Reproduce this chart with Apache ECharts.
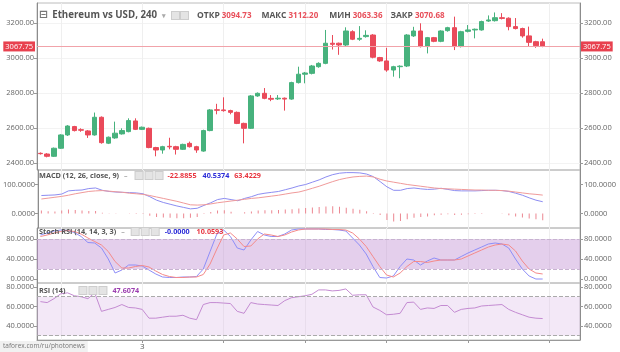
<!DOCTYPE html>
<html>
<head>
<meta charset="utf-8">
<script src="https://cdn.jsdelivr.net/npm/echarts@6/dist/echarts.min.js"></script>
<style>
  html, body { margin: 0; padding: 0; background: #fff; }
  #chart { width: 620px; height: 352px; }
</style>
</head>
<body>
<div id="chart"></div>
<script>
// ETH/USD 4h candles: [open, close, low, high]
const candles = [
  [2457, 2455, 2450, 2462], [2453, 2440, 2434, 2458], [2440, 2486, 2436, 2490], [2486, 2562, 2482, 2566],
  [2562, 2613, 2556, 2618], [2610, 2587, 2582, 2614], [2592, 2589, 2580, 2600], [2585, 2562, 2545, 2590],
  [2562, 2663, 2558, 2690], [2663, 2518, 2512, 2668], [2515, 2549, 2510, 2553], [2545, 2572, 2540, 2638],
  [2568, 2587, 2564, 2600], [2581, 2644, 2577, 2657], [2642, 2594, 2590, 2657], [2594, 2606, 2590, 2610],
  [2600, 2490, 2486, 2604], [2490, 2476, 2440, 2494], [2476, 2495, 2455, 2500], [2497, 2494, 2480, 2546],
  [2495, 2480, 2450, 2500], [2480, 2508, 2476, 2512], [2514, 2495, 2490, 2524], [2495, 2476, 2460, 2500],
  [2470, 2587, 2466, 2592], [2587, 2705, 2583, 2710], [2706, 2703, 2680, 2740], [2705, 2701, 2695, 2777],
  [2701, 2691, 2680, 2706], [2691, 2628, 2624, 2696], [2628, 2600, 2514, 2632], [2600, 2785, 2596, 2790],
  [2785, 2800, 2780, 2805], [2800, 2771, 2766, 2830], [2771, 2766, 2755, 2790], [2768, 2772, 2762, 2790],
  [2772, 2767, 2701, 2776], [2767, 2861, 2763, 2866], [2861, 2909, 2856, 2952], [2909, 2916, 2857, 2922],
  [2914, 2956, 2908, 2962], [2952, 2971, 2946, 2977], [2971, 3086, 2966, 3162], [3086, 3080, 3050, 3133],
  [3086, 3076, 3020, 3090], [3076, 3156, 3070, 3177], [3152, 3109, 3104, 3160], [3109, 3114, 3100, 3184],
  [3124, 3131, 3118, 3160], [3133, 3006, 3000, 3138], [3004, 2985, 2980, 3008], [2985, 2933, 2923, 3060],
  [2933, 2952, 2895, 2957], [2952, 2955, 2886, 2960], [2956, 3133, 2950, 3138], [3128, 3156, 3122, 3180],
  [3156, 3067, 3062, 3200], [3067, 3118, 3028, 3122], [3118, 3097, 3092, 3122], [3097, 3156, 3092, 3160],
  [3158, 3175, 3152, 3180], [3175, 3067, 3047, 3238], [3067, 3152, 3062, 3157], [3154, 3162, 3148, 3190],
  [3162, 3166, 3114, 3170], [3162, 3210, 3158, 3215], [3213, 3219, 3208, 3245], [3215, 3232, 3210, 3262],
  [3232, 3228, 3222, 3258], [3229, 3181, 3160, 3234], [3181, 3170, 3165, 3230], [3170, 3128, 3118, 3175],
  [3128, 3091, 3070, 3181], [3095, 3072, 3060, 3100], [3094.73, 3070.68, 3063.36, 3112.20]
];

const macdLine = [62, 63, 64, 67, 78, 80, 81, 86, 88, 80,
  76, 74, 73, 72, 71, 68, 58, 46, 38, 32,
  26, 21, 16, 18, 28, 37, 48, 52, 48, 44,
  52, 58, 66, 70, 73, 76, 82, 88, 95, 100,
  108, 116, 126, 134, 139, 141, 141, 140, 136, 127,
  110, 92, 80, 80, 86, 88, 85, 83, 84, 87,
  83, 79, 78, 78, 78, 79, 80, 80, 79, 76,
  70, 63, 54, 46, 40.5374];
const signalLine = [50, 53, 56, 59, 63, 68, 72, 76, 78, 79,
  77, 75, 73, 70, 68, 66, 62, 57, 52, 47,
  42, 36, 30, 29, 30, 33, 37, 40, 43, 46,
  49, 52, 54, 57, 60, 63, 67, 71, 74, 80,
  87, 94, 102, 110, 117, 122, 126, 128, 129, 126,
  118, 112, 108, 104, 100, 97, 94, 91, 88, 86,
  85, 84, 83, 82, 81, 81, 80, 80, 79, 77,
  74, 71, 68, 66, 63.4229];
const macdHist = [10, 8, 7, 10, 14, 12, 10, 9, 9, 3,
  1, 1, 0, 1, 2, 2, -8, -12, -14, -15,
  -16, -16, -15, -12, -2, 5, 10, 11, 6, 0,
  4, 7, 10, 11, 11, 12, 14, 15, 17, 19,
  21, 22, 24, 25, 23, 20, 16, 13, 8, 2,
  -5, -22, -28, -26, -20, -15, -12, -10, -6, -4,
  -3, -5, -4, -3, -2, -2, 0, 0, -1, -6,
  -10, -14, -17, -20, -22.8855];

const stochK = [88, 92, 96, 98, 97, 93, 85, 73, 72, 62,
  40, 12, 18, 28, 28, 26, 18, 10, 4, 3,
  3, 4, 4, 5, 20, 55, 90, 98, 85, 62,
  58, 78, 95, 88, 85, 85, 90, 98, 100, 100,
  100, 100, 99, 99, 98, 96, 82, 68, 50, 25,
  3, 2, 6, 25, 40, 38, 28, 36, 42, 38,
  38, 38, 45, 52, 58, 64, 70, 72, 70, 62,
  40, 20, 6, 0, -0.00001];
const stochD = [85, 88, 92, 95, 97, 95, 90, 82, 75, 68,
  55, 35, 22, 22, 25, 27, 24, 16, 9, 5,
  3, 3, 4, 4, 9, 30, 60, 88, 92, 80,
  65, 66, 80, 90, 88, 85, 88, 94, 98, 100,
  100, 100, 100, 99, 99, 98, 92, 80, 65, 45,
  25, 8, 4, 12, 25, 35, 35, 33, 36, 38,
  38, 38, 40, 46, 52, 58, 64, 68, 70, 68,
  56, 36, 20, 12, 10.0593];

const rsi = [65, 64, 68, 73, 74, 71, 70, 68, 74, 55,
  57, 59, 62, 59, 58.5, 57, 48, 48, 49, 50,
  50, 51, 48, 46.5, 62, 64, 64, 63.5, 63, 55,
  53, 64, 62.5, 62, 61.5, 61, 66, 69, 70, 71,
  72.5, 77, 77, 76, 76.5, 78, 71.5, 72, 72, 59.5,
  56, 51.5, 52, 53, 64, 64.5, 57, 58.5, 58, 61,
  61, 54, 57, 58, 58.5, 60.5, 61, 61.5, 62, 57,
  54, 51.5, 49, 48, 47.6074];

const priceTicks = [2400, 2600, 2800, 3000, 3200];
const macdTicks = [0, 100];
const stochTicks = [0, 40, 80];
const rsiTicks = [40, 60, 80];
const stochBand = [20, 80];
const rsiBand = [30, 70];
const dayTickIndex = [3, 15, 27, 39, 51, 63, 75];
const dayLabels = { 15: '3' };
const lastPrice = 3067.75;
const padCount = 5;   // empty slots right of last candle

const UP = '#47b27d';
const DOWN = '#ea4a5a';
const FONT = 'Open Sans';

const total = candles.length + padCount;
const categories = [];
for (let i = 0; i < total; i++) categories.push(String(i));

// panel extents (values at top/bottom edge of each pane)
const panels = [
  { top: 3, height: 167, min: 2361.7, max: 3316, ticks: priceTicks, digits: 2 },
  { top: 170, height: 58, min: -50, max: 150, ticks: macdTicks, digits: 4 },
  { top: 228, height: 55, min: -8, max: 102, ticks: stochTicks, digits: 4 },
  { top: 283, height: 57, min: 25.6, max: 84.1, ticks: rsiTicks, digits: 4 }
];

const isDayTick = (i) => dayTickIndex.indexOf(i) >= 0;

const grids = panels.map(p => ({
  left: 37, right: 40, top: p.top, height: p.height,
  show: true, borderColor: '#bcbcbc', borderWidth: 1
}));

const xAxes = panels.map((p, g) => ({
  type: 'category', gridIndex: g, data: categories, boundaryGap: true,
  axisLine: { show: g === 3, lineStyle: { color: '#999' } },
  axisTick: { show: g === 3, alignWithLabel: true, interval: isDayTick, length: 3, lineStyle: { color: '#999' } },
  axisLabel: {
    show: g === 3, interval: 0, margin: 3, fontSize: 8, color: '#555', fontFamily: FONT,
    formatter: (v, i) => dayLabels[i] || ''
  },
  splitLine: { show: true, alignWithLabel: true, interval: isDayTick, lineStyle: { color: '#efefef' } }
}));

const yAxes = [];
panels.forEach((p, g) => {
  ['left', 'right'].forEach(side => {
    yAxes.push({
      type: 'value', gridIndex: g, position: side, min: p.min, max: p.max,
      axisLine: { show: true, lineStyle: { color: '#8c8c8c' } },
      axisTick: { show: true, length: 3, customValues: p.ticks, lineStyle: { color: '#999' } },
      axisLabel: {
        customValues: p.ticks, fontSize: 7.5, color: '#666', fontFamily: FONT,
        margin: side === 'left' ? 3 : 4,
        formatter: v => v.toFixed(p.digits)
      },
      splitLine: { show: side === 'left' && g === 0, lineStyle: { color: '#f3f3f3' } }
    });
  });
});

const last = candles[candles.length - 1];
const f2 = v => v.toFixed(2);
const f4 = v => v.toFixed(4);
const lastOf = a => a[a.length - 1];

// rich styles shared by the pane headers, g<N> = N px spacer
function richWith(extra) {
  const rich = {
    bx: { width: 7, height: 7, backgroundColor: '#e4e4e4', borderColor: '#cdcdcd', borderWidth: 1 },
    d: { fontSize: 7, color: '#aaa', fontFamily: FONT },
    t: { fontSize: 7.3, color: '#555', fontFamily: FONT },
    r: { fontSize: 7.2, color: '#e8343f', fontFamily: FONT },
    b: { fontSize: 7.2, color: '#2b2bd8', fontFamily: FONT }
  };
  for (let w = 1; w <= 16; w++) rich['g' + w] = { width: w };
  return Object.assign(rich, extra || {});
}
const boxes3 = '{bx|}{g3|}{bx|}{g3|}{bx|}';

const priceLabel = (pos) => ({
  yAxis: lastPrice,
  label: {
    show: true, position: pos, distance: pos === 'start' ? 2 : 1,
    formatter: f2(lastPrice), color: '#fff', backgroundColor: '#e8414f',
    padding: [1, 2], fontSize: 7.5, fontFamily: FONT
  }
});

const option = {
  animation: false,
  backgroundColor: '#fff',
  title: [
    {
      left: 39, top: 10, padding: 0,
      text: '{ic|⊟}{g4|}{nm|Ethereum vs USD, 240}{g5|}{d|▾}{g6|}{bx|}{g2|}{bx|}{g9|}' +
        '{k|ОТКР}{v|' + f2(last[0]) + '}{g10|}{k|МАКС}{v|' + f2(last[3]) + '}{g11|}' +
        '{k|МИН}{v|' + f2(last[2]) + '}{g8|}{k|ЗАКР}{v|' + f2(last[1]) + '}',
      textStyle: {
        fontSize: 8,
        rich: richWith({
          ic: { fontSize: 11, color: '#777', fontFamily: 'DejaVu Sans' },
          nm: { fontSize: 9.7, color: '#555', fontFamily: FONT },
          k: { fontSize: 8.5, color: '#555', fontFamily: FONT },
          v: { fontSize: 8, color: '#e8505b', fontFamily: FONT, padding: [0, 0, 0, 2] }
        })
      }
    },
    {
      left: 39, top: 172, padding: 0,
      text: '{t|MACD (12, 26, close, 9)}{g5|}{d|–}{g8|}' + boxes3 + '{g5|}{r|' + f4(lastOf(macdHist)) +
        '}{g6|}{b|' + f4(lastOf(macdLine)) + '}{g5|}{r|' + f4(lastOf(signalLine)) + '}',
      textStyle: { fontSize: 7, rich: richWith() }
    },
    {
      left: 39, top: 228, padding: 0,
      text: '{t|Stoch RSI (14, 14, 3, 3)}{g5|}{d|–}{g7|}' + boxes3 + '{g6|}{b|' + f4(lastOf(stochK)) +
        '}{g7|}{r|' + f4(lastOf(stochD)) + '}',
      textStyle: { fontSize: 7, rich: richWith() }
    },
    {
      left: 39, top: 287, padding: 0,
      text: '{t|RSI (14)}{g14|}' + boxes3 + '{g6|}{p|' + f4(lastOf(rsi)) + '}',
      textStyle: {
        fontSize: 7,
        rich: richWith({ p: { fontSize: 7.2, color: '#9c3fb0', fontFamily: FONT } })
      }
    }
  ],
  grid: grids,
  xAxis: xAxes,
  yAxis: yAxes,
  graphic: [
    {
      type: 'text', left: 0, top: 341, z: 100,
      style: {
        text: 'taforex.com/ru/photonews', fontSize: 6.5, fill: '#777', fontFamily: FONT,
        backgroundColor: '#f1f1f1', padding: [2, 3]
      }
    }
  ],
  series: [
    {
      type: 'candlestick', xAxisIndex: 0, yAxisIndex: 0, data: candles, barWidth: 5,
      itemStyle: { color: UP, color0: DOWN, borderColor: UP, borderColor0: DOWN, borderWidth: 1 },
      markLine: {
        silent: true, symbol: 'none', animation: false,
        lineStyle: { color: '#f1a3aa', width: 1, type: 'solid' },
        data: [priceLabel('start'), priceLabel('end')]
      }
    },
    {
      type: 'bar', xAxisIndex: 1, yAxisIndex: 2, data: macdHist, barWidth: 1,
      itemStyle: { color: '#ec8791' }
    },
    {
      type: 'line', xAxisIndex: 1, yAxisIndex: 2, data: macdLine, symbol: 'none',
      lineStyle: { color: '#8d8df2', width: 1 }
    },
    {
      type: 'line', xAxisIndex: 1, yAxisIndex: 2, data: signalLine, symbol: 'none',
      lineStyle: { color: '#f09a9a', width: 1 }
    },
    {
      type: 'line', xAxisIndex: 2, yAxisIndex: 4, data: stochK, symbol: 'none',
      lineStyle: { color: '#8e8ef8', width: 1 },
      markArea: {
        silent: true, itemStyle: { color: 'rgba(190, 140, 210, 0.42)' },
        data: [[{ yAxis: stochBand[0] }, { yAxis: stochBand[1] }]]
      },
      markLine: {
        silent: true, symbol: 'none', label: { show: false },
        lineStyle: { color: '#c7b3d0', type: 'dashed', width: 1 },
        data: stochBand.map(v => ({ yAxis: v }))
      }
    },
    {
      type: 'line', xAxisIndex: 2, yAxisIndex: 4, data: stochD, symbol: 'none',
      lineStyle: { color: '#f58a8a', width: 1 }
    },
    {
      type: 'line', xAxisIndex: 3, yAxisIndex: 6, data: rsi, symbol: 'none',
      lineStyle: { color: '#c48bd2', width: 1 },
      markArea: {
        silent: true, itemStyle: { color: 'rgba(215, 180, 228, 0.3)' },
        data: [[{ yAxis: rsiBand[0] }, { yAxis: rsiBand[1] }]]
      },
      markLine: {
        silent: true, symbol: 'none', label: { show: false },
        lineStyle: { color: '#aaa', type: 'dashed', width: 1 },
        data: rsiBand.map(v => ({ yAxis: v }))
      }
    }
  ]
};

const chart = echarts.init(document.getElementById('chart'));
chart.setOption(option);
</script>
</body>
</html>
